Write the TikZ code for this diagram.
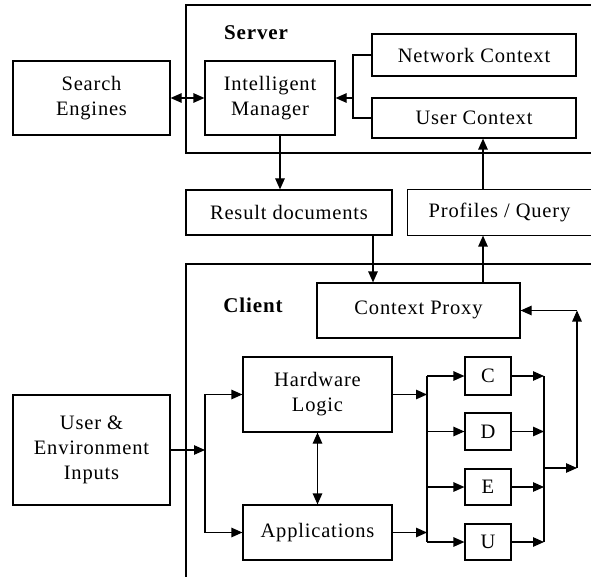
\documentclass[tikz,border=0pt]{standalone}
\usepackage{fontspec}
\setmainfont{Liberation Serif}[LetterSpace=4]
\usetikzlibrary{arrows.meta}
\begin{document}
\begin{tikzpicture}[x=1pt,y=-1pt,
  >={Triangle[length=11pt,width=9.5pt]},
  blk/.style={draw, line width=1.2pt, inner sep=0pt, align=center, font=\fontsize{20.5}{25}\selectfont},
  lbl/.style={inner sep=0pt, font=\fontsize{21}{25}\selectfont\bfseries},
  conn/.style={line width=1.2pt},
  frame/.style={line width=1.2pt}]
\useasboundingbox (0,0) rectangle (591,577);

% containers
\draw[frame] (591,5) -- (186,5) -- (186,153) -- (591,153);
\draw[frame] (591,264) -- (186,264) -- (186,577);
\node[lbl] (srv) at (256,33) {Server};
\node[lbl] (cli) at (253,305) {Client};

% nodes
\node[blk, minimum width=157, minimum height=74] (se) at (91.5,98) {Search\\Engines};
\node[blk, minimum width=130, minimum height=74] (im) at (270,98) {Intelligent\\Manager};
\node[blk, minimum width=204, minimum height=42] (nc) at (474,55) {Network Context};
\node[blk, minimum width=204, minimum height=40] (uc) at (474,118) {User Context};
\node[blk, minimum width=206, minimum height=45] (rd) at (289,212.5) {Result documents};
\node[blk, draw=none, minimum width=183, minimum height=45] (pq) at (499.5,212.5) {Profiles / Query};
\draw[frame] (pq.north east) -- (pq.north west) -- (pq.south west) -- (pq.south east);
\node[blk, minimum width=203, minimum height=55] (cp) at (418.5,310.5) {\raisebox{6pt}{Context Proxy}};
\node[blk, minimum width=149, minimum height=75] (hl) at (317.5,394.5) {Hardware\\Logic};
\node[blk, minimum width=149, minimum height=55] (ap) at (317.5,532.5) {Applications};
\node[blk, minimum width=157, minimum height=110] (ui) at (91.5,450) {User \&\\Environment\\Inputs};
\node[blk, minimum width=46, minimum height=38] (C) at (488,376) {C};
\node[blk, minimum width=46, minimum height=37] (D) at (488,431.5) {D};
\node[blk, minimum width=46, minimum height=36] (E) at (488,487) {E};
\node[blk, minimum width=46, minimum height=36] (U) at (488,542) {U};

% server connectors
\draw[conn,<->] (se) -- (im);
\draw[conn,->] ([xshift=10pt]im.south) -- ([xshift=10pt]im.south |- rd.north);
\coordinate (j1) at (353,98);
\draw[conn] (nc.west) -| (j1) |- (uc.west);
\draw[conn,->] (j1) -- (im.east);
\draw[conn,->] ([xshift=9pt]uc.south |- pq.north) -- ([xshift=9pt]uc.south);
\draw[conn,->] ([xshift=64.5pt]cp.north) -- ([xshift=64.5pt]cp.north |- pq.south);
\draw[conn,->] ([xshift=84pt]rd.south) -- ([xshift=84pt]rd.south |- cp.north);

% client connectors
\coordinate (s1) at (205,450);
\draw[conn,->] (ui.east) -- (s1);
\draw[conn,->] (s1) |- (hl.west);
\draw[conn,->] (s1) |- (ap.west);
\draw[conn,<->] (hl) -- (ap);
\coordinate (b) at (427,0);
\draw[conn,->] (hl.east) -- (hl.east -| b);
\draw[conn,->] (ap.east) -- (ap.east -| b);
\draw[conn] (b |- C.west) -- (b |- U.west);
\foreach \n in {C,D,E,U} \draw[conn,->] (b |- \n.west) -- (\n.west);
\coordinate (m) at (544,0);
\foreach \n in {C,D,E,U} \draw[conn,->] (\n.east) -- (\n.east -| m);
\draw[conn] (m |- C.east) -- (m |- U.east);
\coordinate (r) at (577,468);
\draw[conn,->] (m |- r) -- (r);
\draw[conn,->] (r) -- (r |- cp.east);
\draw[conn,->] (r |- cp.east) -- (cp.east);
\end{tikzpicture}
\end{document}
